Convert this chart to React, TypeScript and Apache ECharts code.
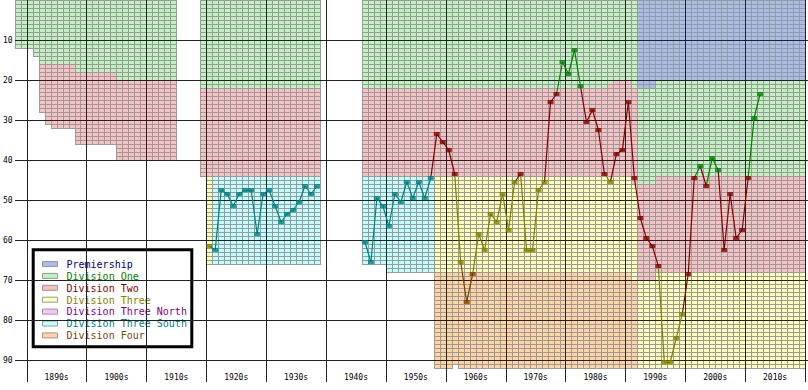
import React, { useEffect, useRef } from 'react';
import * as echarts from 'echarts';

const divisionNames = [
  'Premiership',
  'Division One',
  'Division Two',
  'Division Three',
  'Division Three North',
  'Division Three South',
  'Division Four',
];
const fillColors = ['#a8bcee', '#c0f2c0', '#f8c0c0', '#ffffb8', '#ffc0ff', '#c0ffff', '#ffd4a0'];
const lineColors = ['#000080', '#008000', '#800000', '#808000', '#800080', '#008080', '#804000'];

// League structure: eras of seasons, each with [divisionIndex, clubs] from top to bottom
const eraFirst = [1888, 1891, 1892, 1893, 1894, 1898, 1905, 1919, 1920, 1921, 1946, 1950, 1958, 1961, 1962, 1987, 1988, 1991, 1992, 1995];
const eraLast = [1890, 1891, 1892, 1893, 1897, 1904, 1914, 1919, 1920, 1938, 1949, 1957, 1960, 1961, 1986, 1987, 1990, 1991, 1994, 2019];
const eraDivisions: number[][][] = [
  [[1, 12]],
  [[1, 14]],
  [[1, 16], [2, 12]],
  [[1, 16], [2, 15]],
  [[1, 16], [2, 16]],
  [[1, 18], [2, 18]],
  [[1, 20], [2, 20]],
  [[1, 22], [2, 22]],
  [[1, 22], [2, 22], [3, 22]],
  [[1, 22], [2, 22], [5, 22]],
  [[1, 22], [2, 22], [5, 22]],
  [[1, 22], [2, 22], [5, 24]],
  [[1, 22], [2, 22], [3, 24], [6, 24]],
  [[1, 22], [2, 22], [3, 24], [6, 23]],
  [[1, 22], [2, 22], [3, 24], [6, 24]],
  [[1, 21], [2, 23], [3, 24], [6, 24]],
  [[1, 20], [2, 24], [3, 24], [6, 24]],
  [[1, 22], [2, 24], [3, 24], [6, 22]],
  [[0, 22], [1, 24], [2, 24], [3, 22]],
  [[0, 20], [1, 24], [2, 24], [3, 24]],
];

// Club seasons: start year, overall league position, division index
const seasons = [
  1920, 1921, 1922, 1923, 1924, 1925, 1926, 1927, 1928, 1929, 1930, 1931, 1932, 1933, 1934, 1935, 1936, 1937, 1938,
  1946, 1947, 1948, 1949, 1950, 1951, 1952, 1953, 1954, 1955, 1956, 1957,
  1958, 1959, 1960, 1961, 1962, 1963, 1964, 1965, 1966, 1967, 1968, 1969, 1970, 1971, 1972, 1973, 1974, 1975, 1976,
  1977, 1978, 1979, 1980, 1981, 1982, 1983, 1984, 1985, 1986, 1987, 1988, 1989, 1990, 1991,
  1992, 1993, 1994, 1995, 1996, 1997, 1998, 1999, 2000, 2001, 2002, 2003, 2004, 2005, 2006, 2007, 2008, 2009, 2010,
  2011, 2012,
];
const positions = [
  62, 63, 48, 49, 52, 49, 48, 48, 59, 49, 48, 52, 56, 54, 53, 51, 47, 49, 47,
  61, 66, 50, 52, 57, 49, 51, 46, 50, 46, 50, 45,
  34, 36, 38, 44, 66, 76, 69, 59, 63, 54, 56, 49, 58, 46, 44, 63, 63, 48, 46,
  26, 24, 16, 19, 13, 22, 31, 28, 33, 44, 46, 39, 38, 26, 45,
  55, 60, 62, 67, 91, 91, 85, 79, 69, 45, 42, 47, 40, 43, 63, 49, 60, 58, 45,
  30, 24,
];
const divisions = [
  3, 5, 5, 5, 5, 5, 5, 5, 5, 5, 5, 5, 5, 5, 5, 5, 5, 5, 5,
  5, 5, 5, 5, 5, 5, 5, 5, 5, 5, 5, 5,
  2, 2, 2, 2, 3, 6, 6, 3, 3, 3, 3, 3, 3, 3, 2, 3, 3, 3, 3,
  2, 2, 1, 1, 1, 1, 2, 2, 2, 2, 3, 2, 2, 2, 2,
  2, 2, 2, 2, 3, 3, 3, 3, 2, 2, 1, 2, 1, 1, 2, 2, 2, 2, 2,
  1, 1,
];

const positionTicks = [10, 20, 30, 40, 50, 60, 70, 80, 90];
const decadeTicks = [1890, 1900, 1910, 1920, 1930, 1940, 1950, 1960, 1970, 1980, 1990, 2000, 2010, 2020];
const decadeLabels = ['1890s', '1900s', '1910s', '1920s', '1930s', '1940s', '1950s', '1960s', '1970s', '1980s', '1990s', '2000s', '2010s'];

const FIRST = 1888;
const LAST = 2020;
const BOTTOM = 92;
const FONT = '"DejaVu Sans Mono", monospace';

export default function App() {
  const ref = useRef<HTMLDivElement>(null);

  useEffect(() => {
    document.body.style.margin = '0';
    if (!ref.current) return;
    const chart = echarts.init(ref.current, undefined, { renderer: 'svg' });

    const blocks: number[][] = [];
    eraFirst.forEach((first, e) => {
      for (let s = first; s <= eraLast[e]; s++) {
        let top = 0;
        eraDivisions[e].forEach(([d, n]) => {
          blocks.push([s, top, top + n, d]);
          top += n;
        });
      }
    });

    const gridItems: number[][] = [
      ...positionTicks.map((p) => [0, p]),
      ...decadeTicks.map((y) => [1, y]),
    ];

    const segments: any[] = [];
    for (let i = 1; i < seasons.length; i++) {
      if (seasons[i] - seasons[i - 1] === 1) {
        segments.push({
          coords: [
            [seasons[i - 1] + 0.5, positions[i - 1] - 0.5],
            [seasons[i] + 0.5, positions[i] - 0.5],
          ],
          lineStyle: { color: lineColors[divisions[i]] },
        });
      }
    }
    const points = seasons.map((s, i) => ({
      value: [s + 0.5, positions[i] - 0.5],
      itemStyle: { color: lineColors[divisions[i]] },
    }));

    const legendChildren: any[] = [
      {
        type: 'rect',
        shape: { x: 33.2, y: 249.8, width: 158.6, height: 97 },
        style: { fill: '#ffffff', stroke: '#000000', lineWidth: 3 },
      },
    ];
    divisionNames.forEach((name, i) => {
      legendChildren.push({
        type: 'rect',
        shape: { x: 42.5, y: 261.5 + 11.9 * i, width: 15, height: 5 },
        style: { fill: fillColors[i], stroke: '#999999', lineWidth: 1 },
      });
      legendChildren.push({
        type: 'text',
        x: 66.5,
        y: 264.3 + 11.9 * i,
        style: {
          text: name,
          fill: lineColors[i],
          font: `10px ${FONT}`,
          verticalAlign: 'middle',
          align: 'left',
        },
      });
    });

    chart.setOption({
      animation: false,
      grid: { left: 13, top: 0, width: 792, height: 368, containLabel: false },
      xAxis: {
        type: 'value',
        min: FIRST,
        max: LAST,
        interval: 1,
        axisLine: { show: false },
        axisTick: { show: false },
        splitLine: { show: false },
        axisLabel: {
          margin: 5,
          fontSize: 8,
          fontFamily: FONT,
          color: '#000',
          formatter: (v: number) => {
            const idx = (v - 1895) / 10;
            return Number.isInteger(idx) && decadeLabels[idx] ? decadeLabels[idx] : '';
          },
        },
      },
      yAxis: {
        type: 'value',
        min: 0,
        max: BOTTOM,
        interval: 10,
        inverse: true,
        axisLine: { show: false },
        axisTick: { show: false },
        splitLine: { show: false },
        axisLabel: {
          margin: 2,
          fontSize: 8,
          fontFamily: FONT,
          color: '#000',
          formatter: (v: number) => (v > 0 && positionTicks.includes(v) ? String(v) : ''),
        },
      },
      series: [
        {
          type: 'custom',
          z: 1,
          silent: true,
          clip: false,
          data: blocks,
          encode: { x: 0, y: 1 },
          renderItem: (params: any, api: any) => {
            const s = api.value(0);
            const a = api.value(1);
            const b = api.value(2);
            const d = api.value(3);
            const p0 = api.coord([s, a]);
            const p1 = api.coord([s + 1, b]);
            const x0 = Math.round(p0[0]);
            const x1 = Math.round(p1[0]);
            const y0 = Math.round(p0[1]);
            const y1 = Math.round(p1[1]);
            const n = b - a;
            let path = '';
            for (let k = 0; k <= n; k++) {
              const y = Math.round(y0 + ((y1 - y0) * k) / n) + 0.5;
              path += `M${x0} ${y}L${x1 + 1} ${y}`;
            }
            path += `M${x0 + 0.5} ${y0}L${x0 + 0.5} ${y1 + 1}`;
            path += `M${x1 + 0.5} ${y0}L${x1 + 0.5} ${y1 + 1}`;
            return {
              type: 'group',
              children: [
                {
                  type: 'rect',
                  shape: { x: x0, y: y0, width: x1 - x0, height: y1 - y0 },
                  style: { fill: fillColors[d] },
                },
                {
                  type: 'path',
                  shape: { pathData: path },
                  style: { fill: 'none', stroke: '#9a9a9a', lineWidth: 1 },
                },
              ],
            };
          },
        },
        {
          type: 'custom',
          z: 3,
          silent: true,
          clip: false,
          data: gridItems,
          renderItem: (params: any, api: any) => {
            const kind = api.value(0);
            const v = api.value(1);
            if (kind === 0) {
              const a = api.coord([FIRST, v]);
              const b = api.coord([LAST, v]);
              const y = Math.round(a[1]) + 0.5;
              return {
                type: 'line',
                shape: { x1: Math.round(a[0]), y1: y, x2: Math.round(b[0]) + 3, y2: y },
                style: { stroke: '#222222', lineWidth: 1 },
              };
            }
            const a = api.coord([v, 0]);
            const b = api.coord([v, BOTTOM]);
            const x = Math.round(a[0]) + 0.5;
            return {
              type: 'line',
              shape: { x1: x, y1: Math.round(a[1]), x2: x, y2: Math.round(b[1]) + 14 },
              style: { stroke: '#222222', lineWidth: 1 },
            };
          },
        },
        {
          type: 'lines',
          coordinateSystem: 'cartesian2d',
          z: 4,
          silent: true,
          polyline: false,
          lineStyle: { width: 1.2, opacity: 1, curveness: 0 },
          data: segments,
        },
        {
          type: 'scatter',
          z: 5,
          silent: true,
          symbol: 'rect',
          symbolSize: [6, 4],
          data: points,
        },
      ],
      graphic: [
        {
          type: 'group',
          z: 100,
          children: legendChildren,
        },
      ],
    });

    return () => chart.dispose();
  }, []);

  return <div ref={ref} style={{ width: 808, height: 390 }} />;
}
